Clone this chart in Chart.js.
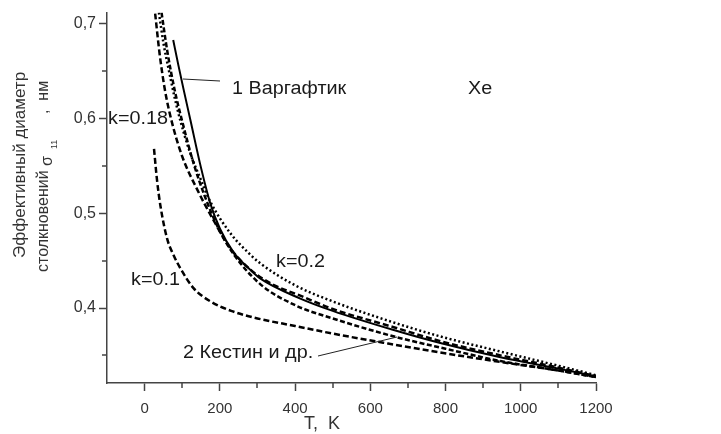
<!DOCTYPE html>
<html><head><meta charset="utf-8">
<script src="https://cdn.jsdelivr.net/npm/chart.js@4"></script>
<style>html,body{margin:0;padding:0;background:#fff}#wrap{width:721px;height:434px}</style>
</head><body><div id="wrap"><canvas id="c" width="721" height="434"></canvas></div>
<script>
// Axis ticks
const xMajorTicks = [0, 200, 400, 600, 800, 1000, 1200];
const xMinorTicks = [100, 300, 500, 700, 900, 1100];
const yMajorTicks = [0.4, 0.5, 0.6, 0.7];
const yMinorTicks = [0.35, 0.45, 0.55, 0.65];

// 1 Варгафтик (solid)
const T_varg = [76, 90, 103, 122, 150, 175, 200, 236, 282, 308, 414, 500, 660, 786, 946, 1100, 1200];
const S_varg = [0.683, 0.656, 0.632, 0.598, 0.548, 0.510, 0.484, 0.459, 0.440, 0.431, 0.410, 0.397, 0.377, 0.363, 0.348, 0.336, 0.328];

// k=0.2 (dotted)
const T_k02 = [38, 50, 65, 80, 95, 120, 150, 175, 230, 282, 308, 400, 500, 660, 786, 946, 1100, 1200];
const S_k02 = [0.712, 0.68, 0.65, 0.622, 0.598, 0.565, 0.535, 0.512, 0.478, 0.456, 0.447, 0.424, 0.407, 0.385, 0.370, 0.354, 0.339, 0.329];

// k=0.18 (dashed)
const T_k018 = [28, 40, 55, 74, 100, 140, 180, 228, 280, 340, 414, 500, 660, 786, 946, 1100, 1200];
const S_k018 = [0.711, 0.668, 0.628, 0.594, 0.56, 0.525, 0.495, 0.463, 0.441, 0.425, 0.413, 0.399, 0.380, 0.365, 0.350, 0.337, 0.328];

// 2 Кестин и др. (dashed)
const T_kestin = [45, 60, 80, 102, 130, 160, 200, 240, 308, 400, 500, 672, 800, 946, 1100, 1200];
const S_kestin = [0.712, 0.672, 0.63, 0.594, 0.553, 0.518, 0.481, 0.455, 0.425, 0.403, 0.389, 0.369, 0.357, 0.344, 0.334, 0.327];

// k=0.1 (dashed)
const T_k01 = [25, 33, 42, 60, 78, 95, 130, 175, 230, 300, 400, 500, 654, 786, 946, 1100, 1200];
const S_k01 = [0.568, 0.535, 0.508, 0.473, 0.455, 0.442, 0.421, 0.407, 0.397, 0.389, 0.381, 0.373, 0.362, 0.353, 0.343, 0.334, 0.327];

const pts = (T, S) => T.map((t, i) => ({x: t, y: S[i]}));
const FONT = "'Liberation Sans', Arial, sans-serif";
const AX = '#444';

function ds(T, S, dash, w) {
  return {data: pts(T, S), borderColor: '#000', borderWidth: w, borderDash: dash,
          pointRadius: 0, fill: false, cubicInterpolationMode: 'monotone', borderCapStyle: 'butt'};
}

function stretchText(ctx, txt, x, y, sx) {
  ctx.save(); ctx.translate(x, y); ctx.scale(sx, 1); ctx.fillText(txt, 0, 0); ctx.restore();
}

const overlay = {
  id: 'overlay',
  afterDraw(chart) {
    const ctx = chart.ctx, xs = chart.scales.x, ys = chart.scales.y;
    const ca = chart.chartArea;
    ctx.save();
    ctx.strokeStyle = AX; ctx.lineWidth = 1.5;
    ctx.beginPath();
    xMinorTicks.forEach(v => { const p = Math.round(xs.getPixelForValue(v)); ctx.moveTo(p, ca.bottom); ctx.lineTo(p, ca.bottom + 5); });
    yMinorTicks.forEach(v => { const p = Math.round(ys.getPixelForValue(v)); ctx.moveTo(ca.left - 5, p); ctx.lineTo(ca.left, p); });
    ctx.stroke();

    // pointer lines
    ctx.strokeStyle = '#222'; ctx.lineWidth = 1;
    ctx.beginPath();
    ctx.moveTo(183, 79); ctx.lineTo(220, 81);
    ctx.moveTo(318, 356); ctx.lineTo(397, 337);
    ctx.stroke();

    // annotations
    ctx.fillStyle = '#1a1a1a';
    ctx.textBaseline = 'middle'; ctx.textAlign = 'left';
    ctx.font = '18px ' + FONT;
    const sx = 1.1;
    stretchText(ctx, '1 Варгафтик', 232, 89, sx);
    stretchText(ctx, 'Xe', 468, 89, sx);
    stretchText(ctx, 'k=0.18', 108, 119, sx);
    stretchText(ctx, 'k=0.2', 276, 262, sx);
    stretchText(ctx, 'k=0.1', 131, 280, sx);
    stretchText(ctx, '2 Кестин и др.', 183, 353, sx);

    // x title
    ctx.fillStyle = '#333';
    ctx.textAlign = 'center';
    ctx.font = '18px ' + FONT;
    ctx.fillText('T,  K', 322, 424);

    // y title
    ctx.save();
    ctx.translate(25, 258); ctx.rotate(-Math.PI / 2);
    ctx.textAlign = 'left'; ctx.textBaseline = 'alphabetic';
    ctx.font = '17px ' + FONT;
    ctx.fillText('Эффективный диаметр', 0, 0);
    ctx.restore();

    ctx.save();
    ctx.translate(48, 272); ctx.rotate(-Math.PI / 2);
    ctx.textAlign = 'left'; ctx.textBaseline = 'alphabetic';
    ctx.font = '16px ' + FONT;
    ctx.fillText('столкновений', 0, 0);
    ctx.fillText('σ', 106, 4);
    ctx.font = '9px ' + FONT;
    ctx.fillText('11', 123, 9);
    ctx.font = '16px ' + FONT;
    ctx.fillText(',  нм', 158, 0);
    ctx.restore();

    ctx.restore();
  }
};

new Chart(document.getElementById('c'), {
  type: 'line',
  data: {datasets: [
    ds(T_k01, S_k01, [6, 3], 2.5),
    ds(T_k018, S_k018, [6, 3], 2.5),
    ds(T_kestin, S_kestin, [5, 2.5], 2.5),
    ds(T_k02, S_k02, [2, 2.5], 2.5),
    ds(T_varg, S_varg, [], 2)
  ]},
  options: {
    responsive: false, animation: false,
    layout: {padding: {left: 0, right: 125, top: 8, bottom: 0}},
    plugins: {legend: {display: false}, tooltip: {enabled: false}},
    scales: {
      x: {type: 'linear', min: -100, max: 1200,
          afterBuildTicks: s => { s.ticks = xMajorTicks.map(v => ({value: v})); },
          afterFit: s => { s.height = 51; },
          border: {display: true, color: AX, width: 1.5},
          grid: {display: true, drawOnChartArea: false, drawTicks: true, tickLength: 8, tickColor: AX, tickWidth: 1.5},
          ticks: {color: '#333', font: {family: FONT, size: 15}, padding: 9, maxRotation: 0,
                  callback: v => String(v)}},
      y: {type: 'linear', min: 0.3208, max: 0.712,
          afterBuildTicks: s => { s.ticks = yMajorTicks.map(v => ({value: v})); },
          afterFit: s => { s.width = 107; },
          border: {display: true, color: AX, width: 1.5},
          grid: {display: true, drawOnChartArea: false, drawTicks: true, tickLength: 8, tickColor: AX, tickWidth: 1.5},
          ticks: {color: '#333', font: {family: FONT, size: 16}, padding: 3,
                  callback: v => v.toFixed(1).replace('.', ',')}}
    }
  },
  plugins: [overlay]
});
</script>
</body></html>
